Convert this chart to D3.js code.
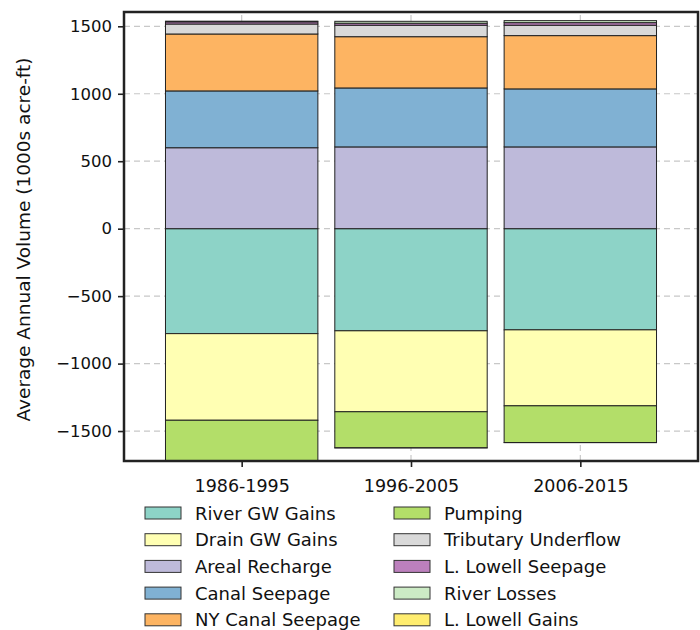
<!DOCTYPE html>
<html>
<head>
<meta charset="utf-8">
<script src="https://cdn.jsdelivr.net/npm/d3@7"></script>
<style>
  body { margin: 0; background: #fff; }
  text { font-family: "DejaVu Sans", sans-serif; fill: #111; }
</style>
</head>
<body>
<div id="chart"></div>
<script>
// data (1000s acre-ft)
const periods = ["1986-1995", "1996-2005", "2006-2015"];
const seriesNames = ["River GW Gains", "Drain GW Gains", "Areal Recharge", "Canal Seepage",
    "NY Canal Seepage", "Pumping", "Tributary Underflow", "L. Lowell Seepage",
    "River Losses", "L. Lowell Gains"];
const seriesColors = ["#8dd3c7", "#ffffb3", "#bebada", "#80b1d3", "#fdb462",
    "#b3de69", "#d9d9d9", "#bc80bd", "#ccebc5", "#ffed6f"];
const riverGwGains = [-778, -757, -750];
const drainGwGains = [-642, -600, -563];
const arealRecharge = [600, 606, 606];
const canalSeepage = [421, 437, 430];
const nyCanalSeepage = [422, 380, 395];
const pumping = [-302, -267, -272];
const tributaryUnderflow = [74, 85, 77];
const lLowellSeepage = [16, 15, 19];
const riverLosses = [5, 14, 15];
const lLowellGains = [-1, -1, -1];
const yTicks = [-1500, -1000, -500, 0, 500, 1000, 1500];

function main() {
    const width = 700, height = 630;
    const margin = {left: 124, right: 2, top: 12, bottom: 169};

    const svg = d3.select("#chart").append("svg")
        .attr("width", width)
        .attr("height", height);

    const values = [riverGwGains, drainGwGains, arealRecharge, canalSeepage, nyCanalSeepage,
        pumping, tributaryUnderflow, lLowellSeepage, riverLosses, lLowellGains];

    const x = d3.scaleLinear().domain([-0.695, 2.695])
        .range([margin.left, width - margin.right]);
    const y = d3.scaleLinear().domain([-1722, 1606])
        .range([height - margin.bottom, margin.top]);
    const barW = x(0.45) - x(-0.45);

    // grid
    const grid = svg.append("g");
    grid.selectAll(".gy").data(yTicks).enter().append("line")
        .attr("x1", x.range()[0]).attr("x2", x.range()[1])
        .attr("y1", d => y(d)).attr("y2", d => y(d))
        .attr("stroke", "#c8c8c8").attr("stroke-width", 1.2)
        .attr("stroke-dasharray", "6,4");
    grid.selectAll(".gx").data(periods).enter().append("line")
        .attr("x1", (d, i) => x(i)).attr("x2", (d, i) => x(i))
        .attr("y1", y.range()[0]).attr("y2", y.range()[1])
        .attr("stroke", "#c8c8c8").attr("stroke-width", 1.2)
        .attr("stroke-dasharray", "6,4");

    // stacked bars, positives up and negatives down
    const rects = [];
    periods.forEach((p, i) => {
        let pos = 0, neg = 0;
        values.forEach((vals, k) => {
            const v = vals[i];
            let y0, y1;
            if (v >= 0) { y0 = pos; y1 = pos + v; pos = y1; }
            else { y0 = neg; y1 = neg + v; neg = y1; }
            rects.push({i: i, k: k, y0: y0, y1: y1});
        });
    });

    svg.append("clipPath").attr("id", "plotclip").append("rect")
        .attr("x", margin.left).attr("y", margin.top)
        .attr("width", width - margin.left - margin.right)
        .attr("height", height - margin.top - margin.bottom);

    svg.append("g").attr("clip-path", "url(#plotclip)")
        .selectAll("rect").data(rects).enter().append("rect")
        .attr("x", d => x(d.i) - barW / 2)
        .attr("width", barW)
        .attr("y", d => y(Math.max(d.y0, d.y1)))
        .attr("height", d => Math.abs(y(d.y0) - y(d.y1)))
        .attr("fill", d => seriesColors[d.k])
        .attr("stroke", "#222")
        .attr("stroke-width", 1);

    // axes
    const yAxis = svg.append("g")
        .attr("transform", `translate(${margin.left},0)`)
        .call(d3.axisLeft(y).tickValues(yTicks).tickSize(6).tickPadding(6).tickFormat(d3.format("d")));
    const xAxis = svg.append("g")
        .attr("transform", `translate(0,${height - margin.bottom})`)
        .call(d3.axisBottom(x).tickValues([0, 1, 2]).tickSize(6).tickPadding(13)
            .tickFormat(d => periods[d]));
    [yAxis, xAxis].forEach(a => {
        a.select(".domain").remove();
        a.selectAll(".tick line").attr("stroke", "#222").attr("stroke-width", 1.6);
        a.selectAll(".tick text").attr("font-family", "DejaVu Sans").attr("fill", "#111");
    });
    yAxis.selectAll(".tick text").attr("font-size", 16.5);
    xAxis.selectAll(".tick text").attr("font-size", 17.5);

    // frame
    svg.append("rect")
        .attr("x", margin.left).attr("y", margin.top)
        .attr("width", width - margin.left - margin.right)
        .attr("height", height - margin.top - margin.bottom)
        .attr("fill", "none").attr("stroke", "#222").attr("stroke-width", 2.5);

    svg.append("text")
        .attr("transform", `translate(30,${(margin.top + height - margin.bottom) / 2 + 3}) rotate(-90)`)
        .attr("text-anchor", "middle")
        .attr("font-size", 18.5)
        .text("Average Annual Volume (1000s acre-ft)");

    // legend, two columns of five
    const legend = svg.append("g");
    const item = legend.selectAll("g").data(seriesNames).enter().append("g")
        .attr("transform", (d, k) => `translate(${k < 5 ? 145 : 394},${513 + (k % 5) * 26.7})`);
    item.append("rect")
        .attr("x", 0).attr("y", -6).attr("width", 36).attr("height", 12)
        .attr("fill", (d, k) => seriesColors[k])
        .attr("stroke", "#333").attr("stroke-width", 1);
    item.append("text")
        .attr("x", 50).attr("y", 6.5)
        .attr("font-size", 18)
        .text(d => d);
}
main();
</script>
</body>
</html>
